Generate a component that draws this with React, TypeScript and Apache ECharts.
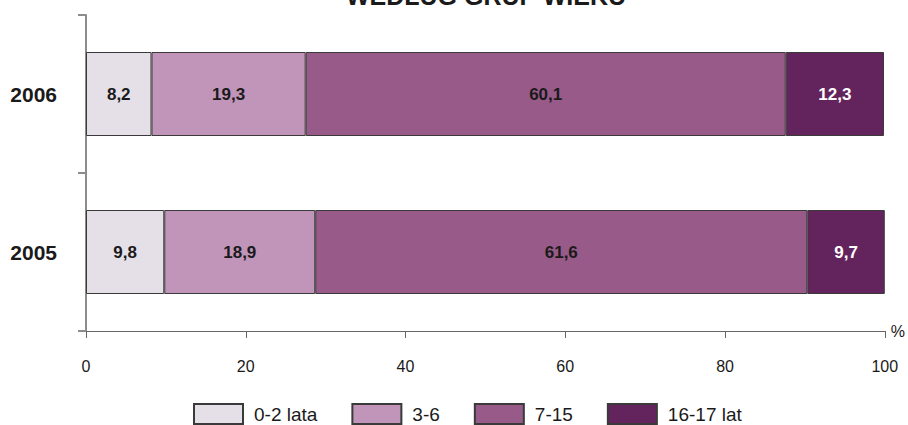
import React, { useEffect, useRef } from "react";
import * as echarts from "echarts";

const titleText = "WEDŁUG GRUP WIEKU";
const years = ["2006", "2005"];
const groups = ["0-2 lata", "3-6", "7-15", "16-17 lat"];
const values2006 = [8.2, 19.3, 60.1, 12.3];
const values2005 = [9.8, 18.9, 61.6, 9.7];
const colors = ["#E5E0E8", "#C194BA", "#975A89", "#63235D"];
const labelColors = ["#1a1a1a", "#1a1a1a", "#1a1a1a", "#ffffff"];
const xTicks = { min: 0, max: 100, interval: 20 };

export default function App() {
  const ref = useRef<HTMLDivElement>(null);
  useEffect(() => {
    if (!ref.current) return;
    const chart = echarts.init(ref.current, undefined, { renderer: "svg" });
    const font = "'Liberation Sans', Arial, sans-serif";
    const series = groups.map((g, i) => ({
      name: g,
      type: "bar",
      stack: "total",
      barWidth: 84,
      data: [values2006[i], values2005[i]],
      itemStyle: { color: colors[i], borderColor: "#3a3a3a", borderWidth: 1 },
      label: {
        show: true,
        position: "inside",
        color: labelColors[i],
        fontFamily: font,
        fontWeight: "bold",
        fontSize: 17,
        formatter: (p: any) => String(p.value).replace(".", ","),
      },
    }));
    chart.setOption({
      animation: false,
      backgroundColor: "#ffffff",
      textStyle: { fontFamily: font },
      grid: { left: 86, right: 22, top: 15, bottom: 94, containLabel: false },
      graphic: [
        {
          type: "text",
          x: 486,
          y: -4,
          style: {
            text: titleText,
            x: 0,
            y: 0,
            align: "center",
            verticalAlign: "middle",
            fontFamily: font,
            fontWeight: "bold",
            fontSize: 25,
            fill: "#1a1a1a",
          },
        },
      ],
      legend: {
        data: groups,
        top: 403,
        left: 193,
        padding: 0,
        itemWidth: 49,
        itemHeight: 20,
        itemGap: 34,
        icon: "rect",
        textStyle: {
          fontFamily: font,
          fontSize: 19,
          color: "#1a1a1a",
          padding: [0, 0, 0, 6],
        },
      },
      xAxis: {
        type: "value",
        min: xTicks.min,
        max: xTicks.max,
        interval: xTicks.interval,
        name: "%",
        nameLocation: "end",
        nameGap: 6,
        nameTextStyle: { fontSize: 16, color: "#1a1a1a", padding: [26, 0, 0, 0] },
        axisLine: { show: true, lineStyle: { color: "#666666", width: 1 } },
        axisTick: { show: true, length: 7, lineStyle: { color: "#666666" } },
        axisLabel: { fontSize: 16, color: "#1a1a1a", margin: 27, fontFamily: font },
        splitLine: { show: false },
      },
      yAxis: {
        type: "category",
        inverse: true,
        data: years,
        axisLine: { show: true, lineStyle: { color: "#8c8c8c", width: 2 } },
        axisTick: { show: true, length: 8, lineStyle: { color: "#8c8c8c", width: 2 } },
        axisLabel: {
          fontSize: 21,
          fontWeight: "bold",
          color: "#1a1a1a",
          margin: 29,
          fontFamily: font,
        },
      },
      series,
    });
    return () => chart.dispose();
  }, []);
  return (
    <div
      ref={ref}
      style={{ position: "absolute", left: 0, top: 0, width: 908, height: 425 }}
    />
  );
}
